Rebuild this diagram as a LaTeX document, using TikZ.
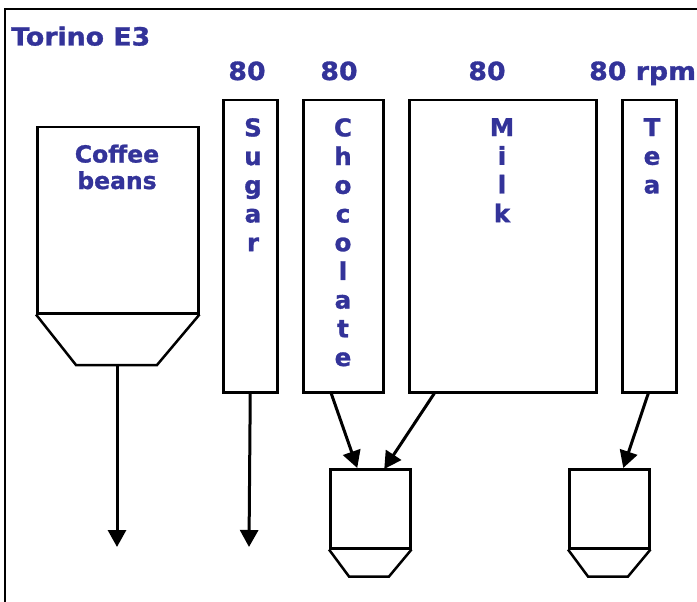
\documentclass[tikz,border=0pt]{standalone}
\usepackage{fontspec}
\setmainfont{DejaVu Sans}[BoldFeatures={FakeBold=1.2}]
\newfontfamily\widefont{DejaVu Sans}[FakeStretch=1.07,BoldFeatures={FakeBold=1.2}]
\usetikzlibrary{arrows.meta,calc}
\definecolor{labelblue}{RGB}{51,51,153}
\begin{document}
\begin{tikzpicture}[x=1pt,y=-1pt,
  box/.style={draw,line width=2.5pt,inner sep=0pt,anchor=north west},
  lbl/.style={text=labelblue,font=\widefont\fontsize{25}{28.7}\selectfont\bfseries,inner sep=0pt},
  vlbl/.style={lbl,align=center,anchor=north,font=\fontsize{24.5}{28.7}\selectfont\bfseries},
  flow/.style={line width=3pt,-{Triangle[length=17pt,width=18pt]}},
  funnel/.style={line width=2.5pt,line join=miter}]
\useasboundingbox (0,0) rectangle (697,602);
% outer frame (open to the right and bottom)
\draw[line width=2.5pt] (5,620) -- (5,9) -- (720,9);
% title and speed labels
\node[lbl,anchor=base west] (title) at (11,45.5) {Torino E3};
\node[lbl,anchor=base] (rpmsugar) at (247,80) {80};
\node[lbl,anchor=base] (rpmchoc) at (339,80) {80};
\node[lbl,anchor=base] (rpmmilk) at (487,80) {80};
\node[lbl,anchor=base west] (rpmtea) at (589,80) {80 rpm};
% coffee hopper with its funnel
\node[box,minimum width=161pt,minimum height=186pt] (coffee) at (36,126) {};
\node[lbl,align=center,anchor=base,font=\fontsize{23.5}{26.5}\selectfont\bfseries] (coffeetxt) at (117,189) {Coffee\\beans};
\coordinate (spoutL) at (76,365);
\coordinate (spoutR) at (157,365);
\coordinate (spout) at (117,365);
\draw[funnel] (coffee.south west) -- (spoutL) -- (spoutR) -- (coffee.south east);
% ingredient canisters
\node[box,minimum width=54pt,minimum height=292pt] (sugar) at (222,99) {};
\node[box,minimum width=80pt,minimum height=292pt] (choc) at (302,99) {};
\node[box,minimum width=187pt,minimum height=292pt] (milk) at (408,99) {};
\node[box,minimum width=54pt,minimum height=292pt] (tea) at (621,99) {};
\node[vlbl] (sugartxt) at (253,118) {S\\u\\g\\a\\r};
\node[vlbl] (choctxt) at (343,118) {C\\h\\o\\c\\o\\l\\a\\t\\e};
\node[vlbl] (milktxt) at (502,118) {M\\i\\l\\k};
\node[vlbl] (teatxt) at (652,118) {T\\e\\a};
% mixing cups
\node[box,minimum width=80pt,minimum height=79pt] (cupA) at (329,468) {};
\node[box,minimum width=80pt,minimum height=79pt] (cupB) at (568,468) {};
\draw[funnel] (cupA.south west) -- ++(20,27) -- ++(40,0) -- (cupA.south east);
\draw[funnel] (cupB.south west) -- ++(20,27) -- ++(40,0) -- (cupB.south east);
% outlets
\coordinate (coffeeout) at (117,547);
\coordinate (sugarout) at (249,547);
\draw[flow] (spout) -- (coffeeout);
\draw[flow] (sugar.south) -- (sugarout);
\draw[flow] ($(choc.south)+(-12,0)$) -- ($(cupA.north)+(-13,0)$);
\draw[flow] ($(milk.south)+(-68.5,0)$) -- ($(cupA.north)+(14,1)$);
\draw[flow] ($(tea.south)+(-1,0)$) -- ($(cupB.north)+(14,0)$);
\end{tikzpicture}
\end{document}
